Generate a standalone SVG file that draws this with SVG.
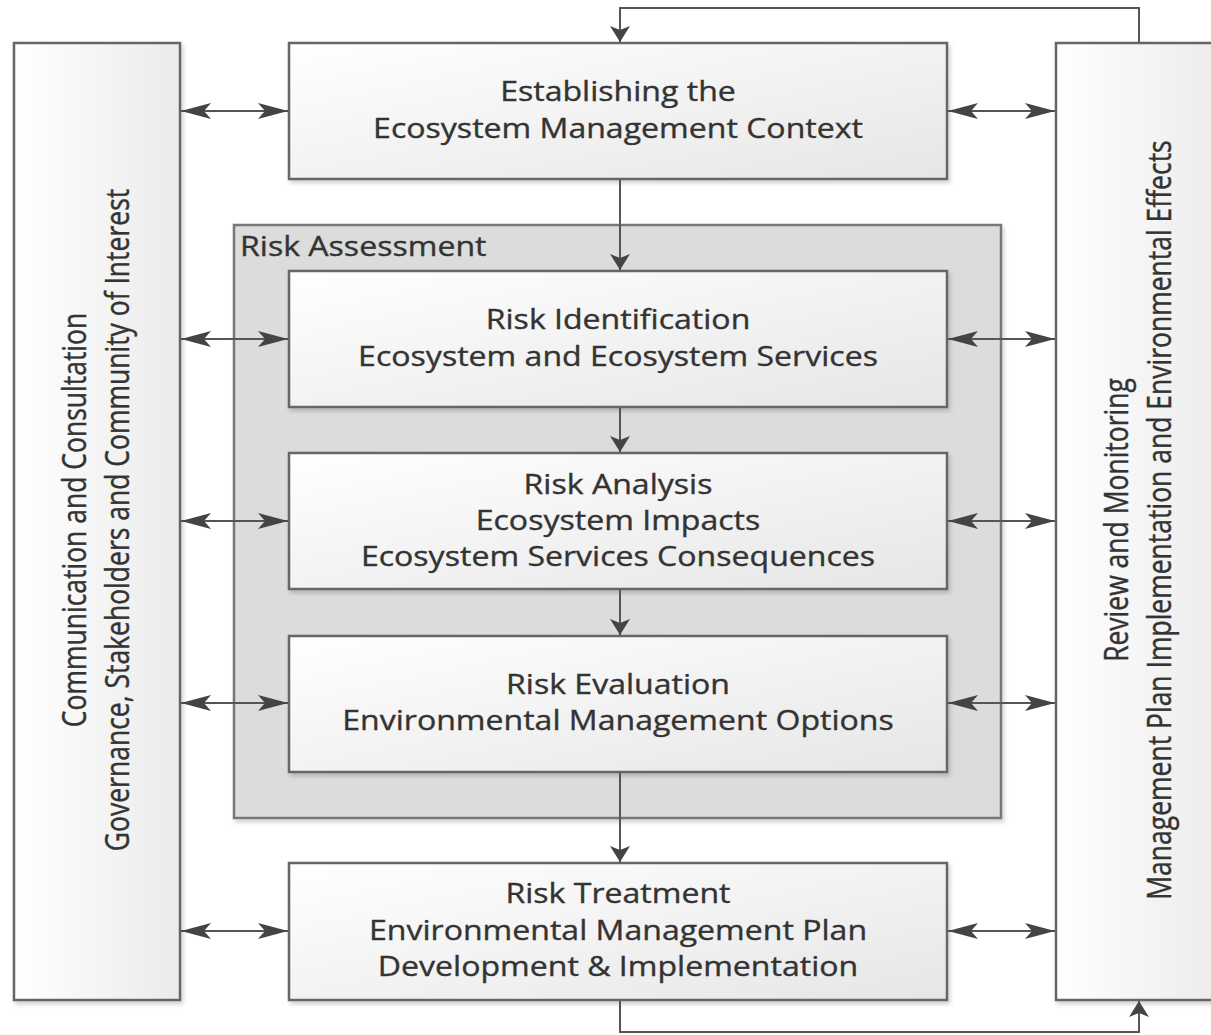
<svg xmlns="http://www.w3.org/2000/svg" width="1211" height="1035" viewBox="0 0 1211 1035">
<defs>
<linearGradient id="gBox" x1="0" y1="0" x2="1" y2="1">
<stop offset="0" stop-color="#ffffff"/><stop offset="1" stop-color="#e6e6e6"/>
</linearGradient>
<linearGradient id="gSide" x1="0" y1="0" x2="1" y2="0">
<stop offset="0" stop-color="#ffffff"/><stop offset="1" stop-color="#ebebeb"/>
</linearGradient>
<filter id="sh" x="-5%" y="-5%" width="110%" height="110%">
<feDropShadow dx="2" dy="3" stdDeviation="2" flood-color="#000" flood-opacity="0.18"/>
</filter>
<marker id="ah" viewBox="0 0 30 16" refX="30" refY="8" markerWidth="30" markerHeight="16" markerUnits="userSpaceOnUse" orient="auto-start-reverse">
<path d="M0,0 L30,8 L0,16 L7,8 Z" fill="#444"/>
</marker>
<marker id="av2" viewBox="0 0 16 20" refX="16" refY="10" markerWidth="16" markerHeight="20" markerUnits="userSpaceOnUse" orient="auto">
<path d="M0,0 L16,10 L0,20 L4,10 Z" fill="#444"/>
</marker>
</defs>
<style>
.box{fill:url(#gBox);stroke:#666;stroke-width:2.5;filter:url(#sh)}
.side{fill:url(#gSide);stroke:#666;stroke-width:2.5;filter:url(#sh)}
.cont{fill:#dcdcdc;stroke:#777;stroke-width:2.5;filter:url(#sh)}
.t{font-family:"Open Sans","DejaVu Sans",sans-serif;font-size:26.5px;fill:#333;stroke:#333;stroke-width:0.35;text-anchor:middle}
.lab{font-family:"Open Sans","DejaVu Sans",sans-serif;font-size:26.5px;fill:#333;stroke:#333;stroke-width:0.35}
.c{stroke:#555;stroke-width:2;fill:none}
</style>
<g id="risk-assessment">
<rect class="cont" x="234" y="225" width="767" height="593"/>
<text class="lab" transform="translate(240 256) scale(1.21 1)">Risk Assessment</text>
</g>
<g id="communication">
<rect class="side" x="14" y="43" width="166" height="957"/>
<text class="t" transform="translate(75 520) scale(1.21 1) rotate(-90)" y="9">Communication and Consultation</text>
<text class="t" transform="translate(118 520) scale(1.21 1) rotate(-90)" y="9">Governance, Stakeholders and Community of Interest</text>
</g>
<g id="review">
<rect class="side" x="1056" y="43" width="170" height="957"/>
<text class="t" transform="translate(1117 520) scale(1.21 1) rotate(-90)" y="9">Review and Monitoring</text>
<text class="t" transform="translate(1160 520) scale(1.21 1) rotate(-90)" y="9">Management Plan Implementation and Environmental Effects</text>
</g>
<g id="context">
<rect class="box" x="289" y="43" width="658" height="136"/>
<text class="t" transform="translate(618 101) scale(1.21 1)">Establishing the</text>
<text class="t" transform="translate(618 138) scale(1.21 1)">Ecosystem Management Context</text>
</g>
<g id="identification">
<rect class="box" x="289" y="271" width="658" height="136"/>
<text class="t" transform="translate(618 329) scale(1.21 1)">Risk Identification</text>
<text class="t" transform="translate(618 366) scale(1.21 1)">Ecosystem and Ecosystem Services</text>
</g>
<g id="analysis">
<rect class="box" x="289" y="453" width="658" height="136"/>
<text class="t" transform="translate(618 494) scale(1.21 1)">Risk Analysis</text>
<text class="t" transform="translate(618 530) scale(1.21 1)">Ecosystem Impacts</text>
<text class="t" transform="translate(618 566) scale(1.21 1)">Ecosystem Services Consequences</text>
</g>
<g id="evaluation">
<rect class="box" x="289" y="636" width="658" height="136"/>
<text class="t" transform="translate(618 694) scale(1.21 1)">Risk Evaluation</text>
<text class="t" transform="translate(618 730) scale(1.21 1)">Environmental Management Options</text>
</g>
<g id="treatment">
<rect class="box" x="289" y="863" width="658" height="137"/>
<text class="t" transform="translate(618 903) scale(1.21 1)">Risk Treatment</text>
<text class="t" transform="translate(618 940) scale(1.21 1)">Environmental Management Plan</text>
<text class="t" transform="translate(618 976) scale(1.21 1)">Development &amp; Implementation</text>
</g>
<g id="connectors">
<line class="c" x1="181" y1="111" x2="288" y2="111" marker-start="url(#ah)" marker-end="url(#ah)"/>
<line class="c" x1="181" y1="339" x2="288" y2="339" marker-start="url(#ah)" marker-end="url(#ah)"/>
<line class="c" x1="181" y1="521" x2="288" y2="521" marker-start="url(#ah)" marker-end="url(#ah)"/>
<line class="c" x1="181" y1="703" x2="288" y2="703" marker-start="url(#ah)" marker-end="url(#ah)"/>
<line class="c" x1="181" y1="931" x2="288" y2="931" marker-start="url(#ah)" marker-end="url(#ah)"/>
<line class="c" x1="948" y1="111" x2="1055" y2="111" marker-start="url(#ah)" marker-end="url(#ah)"/>
<line class="c" x1="948" y1="339" x2="1055" y2="339" marker-start="url(#ah)" marker-end="url(#ah)"/>
<line class="c" x1="948" y1="521" x2="1055" y2="521" marker-start="url(#ah)" marker-end="url(#ah)"/>
<line class="c" x1="948" y1="703" x2="1055" y2="703" marker-start="url(#ah)" marker-end="url(#ah)"/>
<line class="c" x1="948" y1="931" x2="1055" y2="931" marker-start="url(#ah)" marker-end="url(#ah)"/>
<line class="c" x1="620" y1="180" x2="620" y2="270" marker-end="url(#av2)"/>
<line class="c" x1="620" y1="408" x2="620" y2="452" marker-end="url(#av2)"/>
<line class="c" x1="620" y1="590" x2="620" y2="635" marker-end="url(#av2)"/>
<line class="c" x1="620" y1="773" x2="620" y2="862" marker-end="url(#av2)"/>
<polyline class="c" points="1139,42 1139,8 620,8 620,42" marker-end="url(#av2)"/>
<polyline class="c" points="620,1001 620,1032 1139,1032 1139,1001" marker-end="url(#av2)"/>
</g>
</svg>
